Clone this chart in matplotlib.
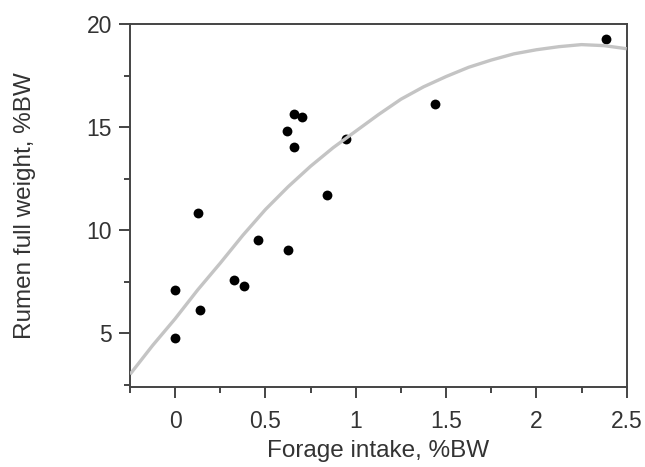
import matplotlib
matplotlib.use("Agg")
import matplotlib.pyplot as plt
from matplotlib.ticker import MultipleLocator

# Scatter data: forage intake (%BW) vs rumen full weight (%BW)
intake = [0.0, 0.0, 0.126, 0.135, 0.324, 0.381, 0.459, 0.624, 0.62, 0.657,
          0.657, 0.704, 0.839, 0.944, 1.441, 2.385]
rumen = [7.09, 4.74, 10.82, 6.11, 7.58, 7.29, 9.52, 9.04, 14.81, 15.64,
         14.03, 15.5, 11.71, 14.44, 16.1, 19.26]

# Fitted curve
curve_x = [-0.25, -0.125, 0.0, 0.125, 0.25, 0.375, 0.5, 0.625, 0.75, 0.875,
           1.0, 1.125, 1.25, 1.375, 1.5, 1.625, 1.75, 1.875, 2.0, 2.125,
           2.25, 2.375, 2.5]
curve_y = [3.0, 4.4, 5.7, 7.1, 8.4, 9.75, 11.0, 12.1, 13.1, 14.0,
           14.8, 15.6, 16.35, 16.95, 17.45, 17.9, 18.25, 18.55, 18.75, 18.9,
           19.0, 18.95, 18.8]

xticks = [0, 0.5, 1, 1.5, 2, 2.5]
xticklabels = ["0", "0.5", "1", "1.5", "2", "2.5"]
yticks = [5, 10, 15, 20]
yticklabels = ["5", "10", "15", "20"]

plt.rcParams['font.family'] = ['Liberation Sans', 'DejaVu Sans']

fig = plt.figure(figsize=(6.45, 4.67), dpi=100)
ax = fig.add_axes([0.2016, 0.172, 0.9716 - 0.2016, 0.9486 - 0.172])

ax.scatter(intake, rumen, s=50, color="black", zorder=2, linewidths=0)
ax.plot(curve_x, curve_y, color="#c4c4c4", lw=2.4, zorder=3, solid_capstyle="butt")

ax.set_xlim(-0.25, 2.5)
ax.set_ylim(2.4, 20)
ax.set_xticks(xticks)
ax.set_xticklabels(xticklabels)
ax.set_yticks(yticks)
ax.set_yticklabels(yticklabels)
ax.xaxis.set_minor_locator(MultipleLocator(0.25))
ax.yaxis.set_minor_locator(MultipleLocator(2.5))

tc = "#333333"
for s in ax.spines.values():
    s.set_color("#444444")
    s.set_linewidth(1.4)

ax.tick_params(which="major", direction="out", length=8, width=1.4, color="#444444",
               labelsize=16.5, labelcolor=tc, pad=5)
ax.tick_params(which="minor", direction="out", length=4.5, width=1.4, color="#444444")
ax.tick_params(axis="x", which="major", pad=9)

ax.set_xlabel("Forage intake, %BW", fontsize=17.5, color=tc, labelpad=5)
ax.set_ylabel("Rumen full weight, %BW", fontsize=17.5, color=tc, labelpad=36)

fig.savefig("out.png", dpi=100)
